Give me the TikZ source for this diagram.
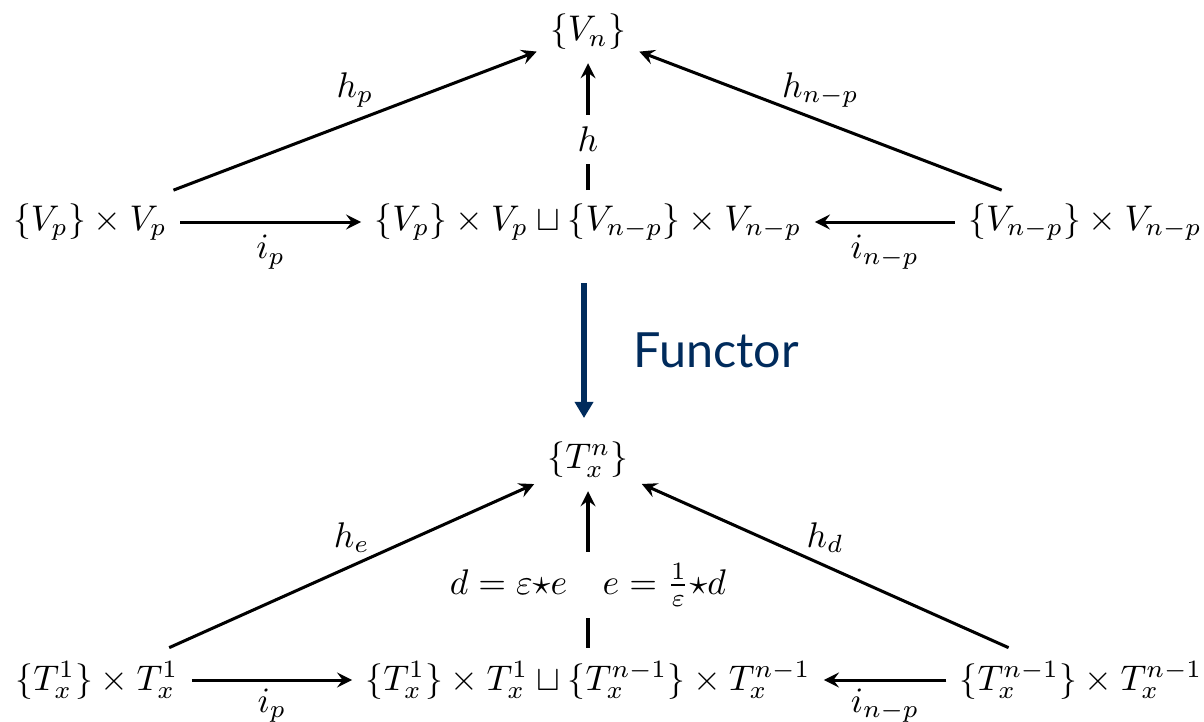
\documentclass[tikz,border=0pt]{standalone}
\usepackage{amsmath}
\usepackage{amssymb}
\usepackage{fontspec}
\newfontfamily\functorfont{Lato}
\usepackage{tikz}
\usetikzlibrary{arrows,arrows.meta}
\definecolor{functorblue}{HTML}{002B5C}

\begin{document}
\begin{tikzpicture}[>=stealth, x=0.2805pt, y=-0.2805pt, every path/.style={line width=0.85pt}]
			\useasboundingbox (0,0) rectangle (1204,721);

			% top diagram
			\node (Vn) at (588,32) {$\{V_n\}$};
			\node (Vp) at (90,222) {$\{V_p\} \times V_p$};
			\node (Vsum) at (588,222) {$\{V_p\} \times V_p \sqcup \{V_{n-p}\} \times V_{n-p}$};
			\node (Vnp) at (1085,222) {$\{V_{n-p}\} \times V_{n-p}$};

			\draw[->] (Vp) -- node[above] {$h_p$} (Vn);
			\draw[->] (Vnp) -- node[above] {$h_{n-p}$} (Vn);
			\draw[->] (Vsum) -- node[pos=0.4, fill=white] {$h$} (Vn);
			\draw[->] (Vp) -- node[below] {$i_p$} (Vsum);
			\draw[->] (Vnp) -- node[below] {$i_{n-p}$} (Vsum);

			% functor arrow
			\coordinate (Ftop) at (584,283);
			\coordinate (Fbot) at (584,418);
			\draw[functorblue, line width=1.6pt, -{Triangle[width=5pt,length=4.5pt]}] (Ftop) -- (Fbot);
			\node[functorblue, anchor=west, inner sep=0pt, font=\functorfont\fontsize{13.6}{16}\selectfont] (Functor) at (632,350) {Functor};

			% bottom diagram
			\node (Tn) at (588,460) {$\{T^n_x\}$};
			\node (T1) at (97,680) {$\{T^1_x\} \times T^1_x$};
			\node (Tsum) at (588,680) {$\{T^1_x\} \times T^1_x \sqcup \{T^{n-1}_x\} \times T^{n-1}_x$};
			\node (Tn1) at (1081,680) {$\{T^{n-1}_x\} \times T^{n-1}_x$};

			\draw[->] (T1) -- node[above] {$h_e$} (Tn);
			\draw[->] (Tn1) -- node[above] {$h_d$} (Tn);
			\draw[->] (Tsum) -- node[pos=0.4, fill=white] {$d = \varepsilon{\star}e \quad e = \frac{1}{\varepsilon}{\star}d$} (Tn);
			\draw[->] (T1) -- node[below, inner sep=2pt] {$i_p$} (Tsum);
			\draw[->] (Tn1) -- node[below, inner sep=2pt] {$i_{n-p}$} (Tsum);
		\end{tikzpicture}
\end{document}
